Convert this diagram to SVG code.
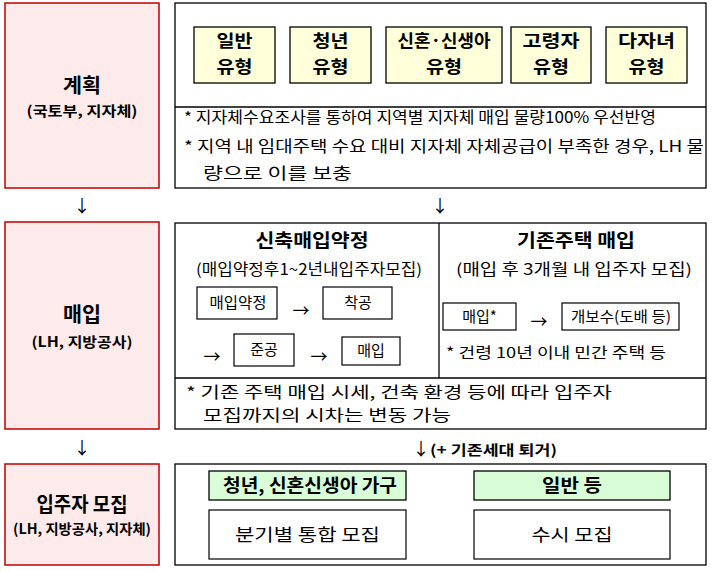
<svg xmlns="http://www.w3.org/2000/svg" width="714" height="572" viewBox="0 0 714 572">
<style>
text{font-family:"Noto Sans CJK KR","Liberation Sans",sans-serif;fill:#000;}
.stage{fill:#fdeaea;stroke:#c00000;stroke-width:1.5;}
.panel{fill:#fff;stroke:#000;stroke-width:1.3;}
.ybox{fill:#ffffd9;stroke:#000;stroke-width:1.3;}
.gbox{fill:#d9fdd6;stroke:#000;stroke-width:1.3;}
.wbox{fill:#fff;stroke:#000;stroke-width:1.2;}
.line{stroke:#000;stroke-width:1.3;fill:none;}
.h1{font-size:20px;font-weight:bold;text-anchor:middle;}
.h2{font-size:14px;font-weight:bold;text-anchor:middle;}
.yt{font-size:18px;font-weight:bold;text-anchor:middle;}
.yb{font-size:17.5px;font-weight:bold;text-anchor:middle;}
.bt{font-size:15.5px;}
.sm{font-size:15px;text-anchor:middle;}
.lg{font-size:17px;text-anchor:middle;}
.nt{font-size:14.5px;}
.arr{font-size:17px;text-anchor:middle;}
</style>

<g id="plan-stage">
<rect class="stage" x="5" y="3" width="154" height="185"/>
<text class="h1" x="82" y="93" textLength="38" lengthAdjust="spacingAndGlyphs">계획</text>
<text class="h2" x="82" y="116" textLength="111" lengthAdjust="spacingAndGlyphs">(국토부, 지자체)</text>
</g>

<g id="plan-panel">
<rect class="panel" x="175" y="3" width="531" height="185"/>
<line class="line" x1="175" y1="107" x2="706" y2="107"/>
<text class="bt" x="184" y="123" textLength="472" lengthAdjust="spacingAndGlyphs">* 지자체수요조사를 통하여 지역별 지자체 매입 물량100% 우선반영</text>
<text class="bt" x="184" y="152" textLength="520" lengthAdjust="spacingAndGlyphs">* 지역 내 임대주택 수요 대비 지자체 자체공급이 부족한 경우, LH  물</text>
<text class="bt" x="203" y="179" textLength="149" lengthAdjust="spacingAndGlyphs">량으로 이를 보충</text>
</g>

<g id="type-general">
<rect class="ybox" x="194" y="27" width="81" height="56"/>
<text class="yb" x="234.5" y="47" textLength="36" lengthAdjust="spacingAndGlyphs">일반</text>
<text class="yb" x="234.5" y="73" textLength="36" lengthAdjust="spacingAndGlyphs">유형</text>
</g>
<g id="type-youth">
<rect class="ybox" x="290" y="27" width="81" height="56"/>
<text class="yb" x="330.5" y="47" textLength="36" lengthAdjust="spacingAndGlyphs">청년</text>
<text class="yb" x="330.5" y="73" textLength="36" lengthAdjust="spacingAndGlyphs">유형</text>
</g>
<g id="type-newlywed">
<rect class="ybox" x="386" y="27" width="116" height="56"/>
<text class="yb" x="444" y="47" textLength="93" lengthAdjust="spacingAndGlyphs">신혼·신생아</text>
<text class="yb" x="444" y="73" textLength="36" lengthAdjust="spacingAndGlyphs">유형</text>
</g>
<g id="type-elderly">
<rect class="ybox" x="511" y="27" width="80" height="56"/>
<text class="yb" x="551" y="47" textLength="57" lengthAdjust="spacingAndGlyphs">고령자</text>
<text class="yb" x="551" y="73" textLength="36" lengthAdjust="spacingAndGlyphs">유형</text>
</g>
<g id="type-multichild">
<rect class="ybox" x="606" y="27" width="81" height="56"/>
<text class="yb" x="646.5" y="47" textLength="57" lengthAdjust="spacingAndGlyphs">다자녀</text>
<text class="yb" x="646.5" y="73" textLength="36" lengthAdjust="spacingAndGlyphs">유형</text>
</g>

<g id="purchase-stage">
<rect class="stage" x="5" y="222" width="154" height="207"/>
<text class="h1" x="82" y="322" textLength="38" lengthAdjust="spacingAndGlyphs">매입</text>
<text class="h2" x="82" y="347" textLength="101" lengthAdjust="spacingAndGlyphs">(LH, 지방공사)</text>
</g>

<g id="purchase-panel">
<rect class="panel" x="175" y="223" width="531" height="206"/>
<line class="line" x1="439" y1="223" x2="439" y2="378"/>
<line class="line" x1="175" y1="378" x2="706" y2="378"/>
<text class="yt" x="312" y="247" textLength="113" lengthAdjust="spacingAndGlyphs">신축매입약정</text>
<text class="bt" x="309" y="275" text-anchor="middle" textLength="226" lengthAdjust="spacingAndGlyphs">(매입약정후1~2년내입주자모집)</text>
<text class="yt" x="576" y="247" textLength="118" lengthAdjust="spacingAndGlyphs">기존주택 매입</text>
<text class="bt" x="574" y="275" text-anchor="middle" textLength="236" lengthAdjust="spacingAndGlyphs">(매입 후 3개월 내 입주자 모집)</text>
<text class="nt" x="446" y="358" textLength="220" lengthAdjust="spacingAndGlyphs">* 건령 10년 이내 민간 주택 등</text>
<text class="bt" x="186" y="398" textLength="426" lengthAdjust="spacingAndGlyphs">* 기존 주택 매입 시세, 건축 환경 등에 따라 입주자</text>
<text class="bt" x="203" y="421" textLength="248" lengthAdjust="spacingAndGlyphs">모집까지의 시차는 변동 가능</text>
</g>

<g id="step-contract">
<rect class="wbox" x="197" y="287" width="80" height="32"/>
<text class="sm" x="238" y="308" textLength="57" lengthAdjust="spacingAndGlyphs">매입약정</text>
</g>
<g id="step-construct">
<rect class="wbox" x="323" y="287" width="69" height="32"/>
<text class="sm" x="358" y="308">착공</text>
</g>
<g id="step-complete">
<rect class="wbox" x="234" y="334" width="60" height="32"/>
<text class="sm" x="264" y="355">준공</text>
</g>
<g id="step-buy">
<rect class="wbox" x="342" y="337" width="58" height="28"/>
<text class="sm" x="371" y="356">매입</text>
</g>
<g id="step-buy-existing">
<rect class="wbox" x="443" y="303" width="73" height="27"/>
<text class="sm" x="479.5" y="322">매입*</text>
</g>
<g id="step-repair">
<rect class="wbox" x="562" y="303" width="117" height="27"/>
<text class="sm" x="621" y="322" textLength="100" lengthAdjust="spacingAndGlyphs">개보수(도배 등)</text>
</g>

<g id="recruit-stage">
<rect class="stage" x="5" y="464" width="154" height="101"/>
<text class="h1" x="82" y="512" textLength="91" lengthAdjust="spacingAndGlyphs">입주자 모집</text>
<text class="h2" x="82" y="534" textLength="138" lengthAdjust="spacingAndGlyphs">(LH, 지방공사, 지자체)</text>
</g>

<g id="recruit-panel">
<rect class="panel" x="175" y="464" width="531" height="101"/>
</g>
<g id="recruit-youth">
<rect class="gbox" x="209" y="471" width="197" height="29"/>
<text class="yt" x="310" y="492" textLength="174" lengthAdjust="spacingAndGlyphs">청년, 신혼신생아 가구</text>
<rect class="wbox" x="209" y="510" width="197" height="49"/>
<text class="lg" x="307.5" y="541" textLength="145" lengthAdjust="spacingAndGlyphs">분기별 통합 모집</text>
</g>
<g id="recruit-general">
<rect class="gbox" x="474" y="471" width="196" height="29"/>
<text class="yt" x="572" y="492" textLength="60" lengthAdjust="spacingAndGlyphs">일반 등</text>
<rect class="wbox" x="474" y="510" width="196" height="49"/>
<text class="lg" x="572" y="541" textLength="81" lengthAdjust="spacingAndGlyphs">수시 모집</text>
</g>

<g id="connectors">
<text class="arr" x="82" y="212">↓</text>
<text class="arr" x="440" y="212">↓</text>
<text class="arr" x="82" y="454">↓</text>
<text class="arr" x="421" y="455">↓</text>
<text x="430" y="455" font-size="14" font-weight="bold" textLength="127" lengthAdjust="spacingAndGlyphs">(+ 기존세대 퇴거)</text>
<text class="arr" x="301" y="317">→</text>
<text class="arr" x="212" y="363">→</text>
<text class="arr" x="319" y="363">→</text>
<text class="arr" x="539" y="328">→</text>
</g>
</svg>
